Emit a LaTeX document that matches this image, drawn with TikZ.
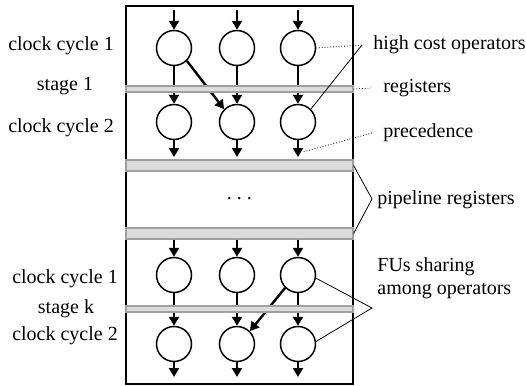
\documentclass[tikz,border=0pt]{standalone}
\usepackage{fontspec}
\setmainfont{Liberation Serif}
\usetikzlibrary{positioning,calc,arrows.meta}

\begin{document}
\begin{tikzpicture}[x=0.5pt,y=-0.5pt,font=\fontsize{10}{11.5}\selectfont]
  % units: 1 = half a point, y runs downwards
  \useasboundingbox (0,0) rectangle (526,386);
  \tikzset{op/.style={draw,circle,line width=0.75pt,minimum size=17.5pt,inner sep=0pt},
           flow/.style={line width=1.2pt,-{Triangle[length=4.5pt,width=5pt]}},
           reg/.style={draw=gray!75,fill=gray!28,line width=0.6pt,
                       minimum width=113.5pt,inner sep=0pt},
           lead/.style={line width=0.4pt},
           ldot/.style={lead,densely dotted},
           note/.style={anchor=west,inner xsep=0pt,inner ysep=1pt,align=left}}
  % datapath frame
  \draw[line width=0.6pt] (126,6) rectangle (353,384);
  % pipeline registers between the stages
  \node[reg,minimum height=5.5pt] (pipeA) at (239.5,165.5) {};
  \node[reg,minimum height=5.5pt] (pipeB) at (239.5,233.5) {};
  \node (gap) at (239.5,199) {.\ .\ .};
  % operators, three per clock cycle
  \foreach \x [count=\c] in {174,237,298} {
    \node[op] (r1c\c) at (\x,48)  {};
    \node[op] (r2c\c) at (\x,122) {};
    \node[op] (r3c\c) at (\x,275) {};
    \node[op] (r4c\c) at (\x,344) {};
    \coordinate (in1c\c)  at (\x,10);
    \coordinate (out2c\c) at (\x,157);
    \coordinate (out4c\c) at (\x,377);
    \draw[flow] (in1c\c) -- (r1c\c);
    \draw[flow] (r1c\c) -- (r2c\c);
    \draw[flow] (r2c\c) -- (out2c\c);
    \draw[flow] (r3c\c |- pipeB.south) -- (r3c\c);
    \draw[flow] (r3c\c) -- (r4c\c);
    \draw[flow] (r4c\c) -- (out4c\c);
  }
  % precedence across a stage
  \draw[flow] (r1c1.south east) -- (r2c2.north west);
  \draw[flow] (r3c3.south west) -- (r4c2.north east);
  % stage registers (on top of the data lines)
  \node[reg,minimum height=3pt] (stage1) at (239.5,89) {};
  \node[reg,minimum height=3pt] (stagek) at (239.5,309) {};
  % cycle / stage labels
  \node (cc11) at (61,46)  {clock cycle 1};
  \node (st1)  at (65,86)  {stage 1};
  \node (cc12) at (61,128) {clock cycle 2};
  \node (cck1) at (65,279) {clock cycle 1};
  \node (stk)  at (66,309) {stage k};
  \node (cck2) at (65,336) {clock cycle 2};
  % annotations
  \coordinate (hcApex)   at (362,45);
  \coordinate (pipeApex) at (372,199);
  \coordinate (fuApex)   at (372,308);
  \node[note] (hcNote)   at (373,45)  {high cost operators};
  \node[note] (regNote)  at (383,88)  {registers};
  \node[note] (precNote) at (383,133) {precedence};
  \node[note] (pipeNote) at (377,200) {pipeline registers};
  \node[note] (fuNote)   at (377,278) {FUs sharing\\among operators};
  \draw[ldot] (r1c3.east) -- (hcApex);
  \draw[lead] (hcApex) -- (r2c3.north east);
  \draw[ldot] (stage1.east) -- ([xshift=-5.5pt]regNote.west);
  \draw[ldot] ([xshift=-5.5pt]precNote.west) -- ([xshift=2.5pt,yshift=2.5pt]out2c3);
  \draw[lead] (pipeA.east) -- (pipeApex) -- (pipeB.east);
  \draw[lead] (r3c3.-10) -- (fuApex) -- (r4c3.8);
\end{tikzpicture}
\end{document}
